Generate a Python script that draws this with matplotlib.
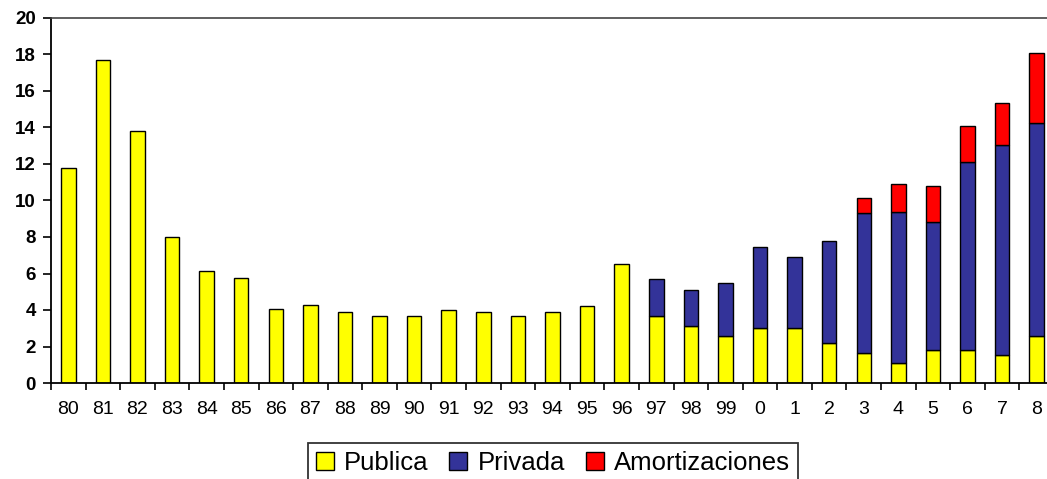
import matplotlib
matplotlib.use("Agg")
import matplotlib.pyplot as plt
import numpy as np
from matplotlib.ticker import FixedLocator

plt.rcParams["font.family"] = ["Liberation Sans", "DejaVu Sans"]

years = ["80", "81", "82", "83", "84", "85", "86", "87", "88", "89",
         "90", "91", "92", "93", "94", "95", "96", "97", "98", "99",
         "0", "1", "2", "3", "4", "5", "6", "7", "8"]
publica = [11.8, 17.7, 13.8, 8.0, 6.15, 5.75, 4.05, 4.3, 3.9, 3.65,
           3.65, 4.0, 3.9, 3.65, 3.9, 4.2, 6.5, 3.65, 3.1, 2.6,
           3.0, 3.0, 2.2, 1.65, 1.1, 1.8, 1.8, 1.55, 2.6]
privada = [0, 0, 0, 0, 0, 0, 0, 0, 0, 0,
           0, 0, 0, 0, 0, 0, 0, 2.07, 2.0, 2.88,
           4.46, 3.92, 5.58, 7.65, 8.29, 7.04, 10.3, 11.5, 11.65]
amortizaciones = [0, 0, 0, 0, 0, 0, 0, 0, 0, 0,
                  0, 0, 0, 0, 0, 0, 0, 0, 0, 0,
                  0, 0, 0, 0.82, 1.53, 1.97, 1.99, 2.31, 3.83]

W, H = 1047, 479
fig = plt.figure(figsize=(W / 100, H / 100), dpi=100)
# axes runs slightly past the right edge of the image, as in the reference
ax = fig.add_axes([51 / W, 96 / H, 1003 / W, 365 / H])

x = np.arange(len(years))
pub = np.array(publica)
pri = np.array(privada)
amo = np.array(amortizaciones)
bw = 0.42
kw = dict(width=bw, edgecolor="black", linewidth=1.0)
ax.bar(x, pub, color="#FFFF00", label="Publica", **kw)
m = pri > 0
ax.bar(x[m], pri[m], bottom=pub[m], color="#333399", label="Privada", **kw)
m = amo > 0
ax.bar(x[m], amo[m], bottom=(pub + pri)[m], color="#FF0000", label="Amortizaciones", **kw)

ax.set_xlim(-0.5, len(years) - 0.5)
ax.set_ylim(0, 20)
ax.set_yticks(np.arange(0, 21, 2))
ax.set_xticks(x)
ax.set_xticklabels(years, fontsize=14)
ax.xaxis.set_minor_locator(FixedLocator(np.arange(-0.5, len(years), 1.0)))
ax.tick_params(axis="x", which="major", length=0, pad=13)
ax.tick_params(axis="x", which="minor", length=5, width=1.2, direction="out")
ax.tick_params(axis="y", length=6, width=1.2, direction="out", pad=5, labelsize=13.5)
for lab in ax.get_yticklabels():
    lab.set_fontweight("bold")

for s in ("left", "bottom"):
    ax.spines[s].set_linewidth(1.3)
    ax.spines[s].set_color("black")
ax.spines["top"].set_color("#444444")
ax.spines["top"].set_linewidth(1.2)
ax.spines["right"].set_visible(False)

leg = fig.legend(loc="upper center", bbox_to_anchor=(553 / W, 1 - 443 / H), ncol=3,
                 fontsize=18.5, frameon=True, fancybox=False, edgecolor="black",
                 handlelength=0.7, handleheight=0.7, handletextpad=0.4,
                 columnspacing=0.8, borderpad=0.3, borderaxespad=0)
leg.get_frame().set_linewidth(1.3)

fig.savefig("out.png", dpi=100)
